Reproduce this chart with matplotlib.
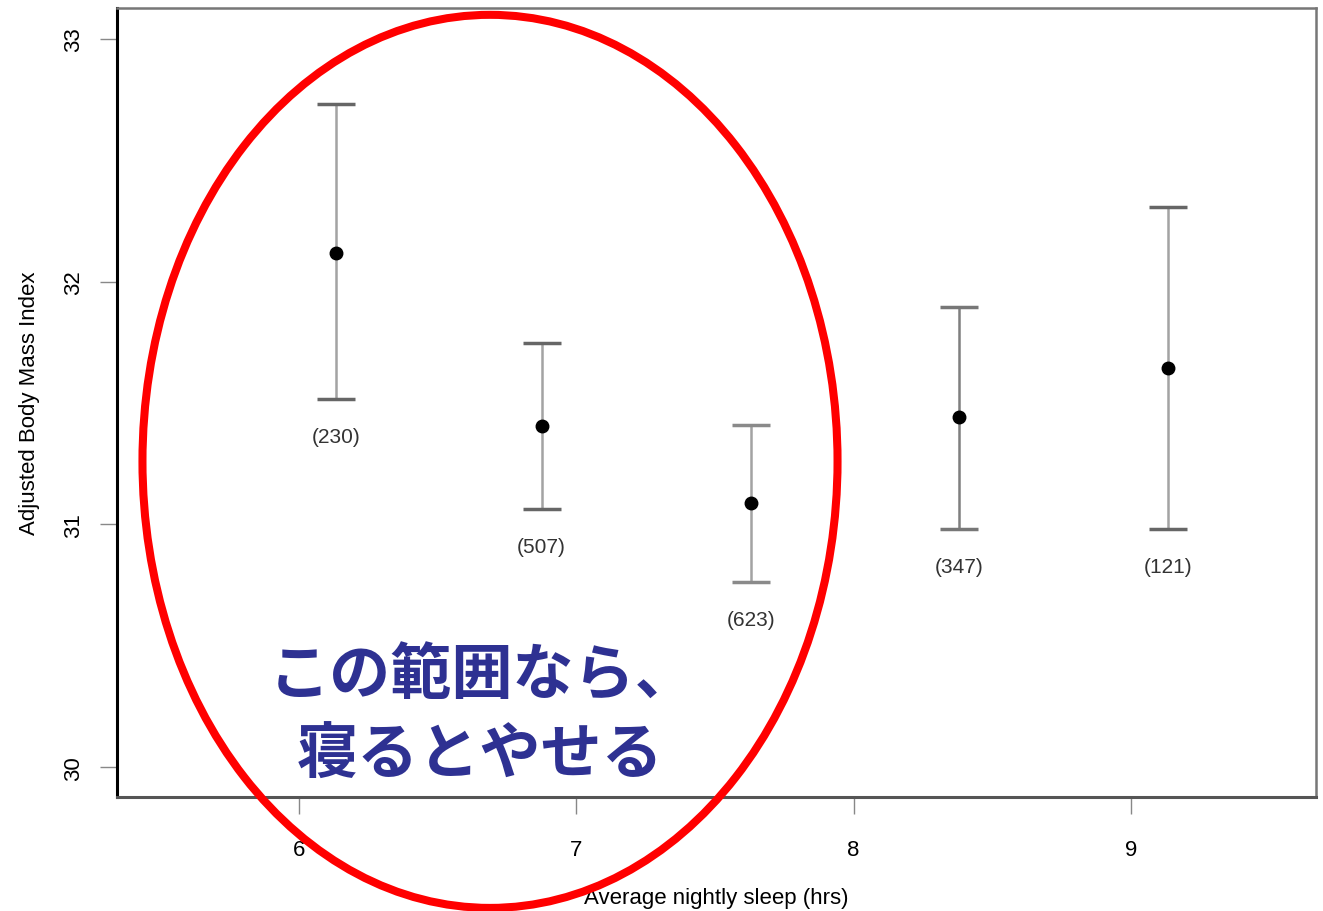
import matplotlib
matplotlib.use("Agg")
import matplotlib.pyplot as plt
from matplotlib.patches import Ellipse

# data
sleep_hrs = [6.133, 6.875, 7.629, 8.381, 9.135]
bmi_mean = [32.118, 31.407, 31.089, 31.441, 31.643]
bmi_upper = [32.731, 31.746, 31.411, 31.897, 32.307]
bmi_lower = [31.517, 31.062, 30.761, 30.982, 30.982]
counts = ["(230)", "(507)", "(623)", "(347)", "(121)"]
x_ticks = [6, 7, 8, 9]
y_ticks = [30, 31, 32, 33]
note_lines = ["この範囲なら、", "寝るとやせる"]

LINE_COLORS = ["#a3a3a3", "#a3a3a3", "#a3a3a3", "#7f7f7f", "#a3a3a3"]
CAP_COLORS = ["#666666", "#666666", "#8a8a8a", "#777777", "#666666"]
NARROW = ["Liberation Sans Narrow", "Liberation Sans", "DejaVu Sans"]
JP = ["Noto Sans CJK JP", "DejaVu Sans"]

fig = plt.figure(figsize=(13.23, 9.12), dpi=100)
ax = fig.add_axes([0.0884, 0.125, 0.9063, 0.8651])

for i, x in enumerate(sleep_hrs):
    ax.errorbar([x], [bmi_mean[i]],
                yerr=[[bmi_mean[i] - bmi_lower[i]], [bmi_upper[i] - bmi_mean[i]]],
                fmt="none", ecolor=LINE_COLORS[i], elinewidth=1.8,
                capsize=0, zorder=2)
    # caps drawn separately so they can be darker than the whisker
    ax.plot([x], [bmi_upper[i]], marker="_", markersize=28, mew=2.5,
            color=CAP_COLORS[i], zorder=3)
    ax.plot([x], [bmi_lower[i]], marker="_", markersize=28, mew=2.5,
            color=CAP_COLORS[i], zorder=3)
    ax.annotate(counts[i], (x, bmi_lower[i]), xytext=(0, -27),
                textcoords="offset points", ha="center", va="center",
                fontsize=15, color="#333333", family=NARROW)

ax.plot(sleep_hrs, bmi_mean, "o", color="black", markersize=9, zorder=4)

ax.set_xlim(5.344, 9.667)
ax.set_ylim(29.877, 33.128)
ax.set_xticks(x_ticks)
ax.set_yticks(y_ticks)
ax.set_xticklabels([str(t) for t in x_ticks], family=NARROW, fontsize=16)
ax.set_yticklabels([str(t) for t in y_ticks], family=NARROW, fontsize=16,
                   rotation=90, va="center")
ax.tick_params(axis="both", length=12, width=1, color="#888888")
ax.tick_params(axis="x", pad=18)
ax.tick_params(axis="y", pad=12)
ax.set_xlabel("Average nightly sleep (hrs)", family=NARROW, fontsize=16,
              labelpad=20)
ax.set_ylabel("Adjusted Body Mass Index", family=NARROW, fontsize=16,
              labelpad=16)

ax.spines["left"].set_color("black")
ax.spines["left"].set_linewidth(2.2)
ax.spines["bottom"].set_color("#555555")
ax.spines["bottom"].set_linewidth(2.2)
for side in ["top", "right"]:
    ax.spines[side].set_color("#777777")
    ax.spines[side].set_linewidth(1.8)

# red circle annotation
ax.add_patch(Ellipse((6.689, 31.26), 2.506, 3.68, fill=False,
                     edgecolor="#ff0000", linewidth=5.8, clip_on=False,
                     zorder=6))

ax.text(6.662, 30.378, note_lines[0], ha="center", va="center", fontsize=44,
        fontweight="bold", color="#2e3192", family=JP, zorder=7)
ax.text(6.655, 30.050, note_lines[1], ha="center", va="center", fontsize=44,
        fontweight="bold", color="#2e3192", family=JP, zorder=7)

fig.savefig("out.png", dpi=100)
